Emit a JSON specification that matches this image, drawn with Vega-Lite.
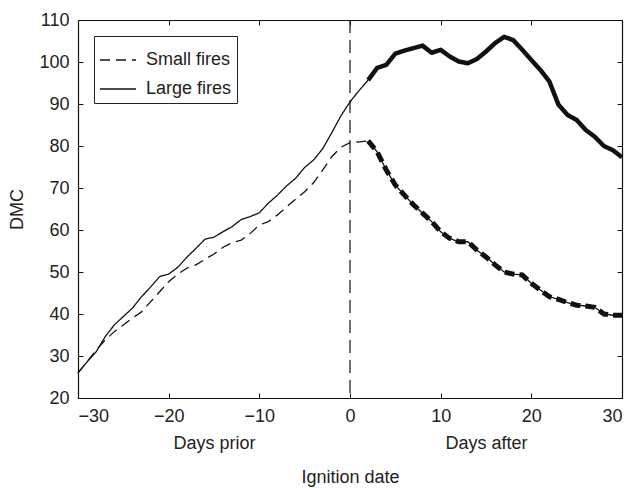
{
  "$schema": "https://vega.github.io/schema/vega-lite/v6.json",
  "autosize": {"type": "none"},
  "padding": {"left": 78, "top": 20, "right": 11, "bottom": 90},
  "width": 544,
  "height": 378,
  "background": "white",
  "config": {
    "font": "Liberation Sans",
    "view": {"stroke": null},
    "axis": {"labelFontSize": 18, "titleFontSize": 18, "titleFontWeight": "normal", "labelColor": "#222", "titleColor": "#222", "domainColor": "#111", "tickColor": "#111", "grid": false, "domainWidth": 1.2, "tickWidth": 1},
    "legend": {"labelFontSize": 18, "labelColor": "#222"}
  },
  "data": {"values": [
    {"day": -30, "dmc": 26, "series": "Large fires"}, {"day": -29, "dmc": 28.6, "series": "Large fires"}, {"day": -28, "dmc": 31, "series": "Large fires"}, {"day": -27, "dmc": 34.6, "series": "Large fires"}, {"day": -26, "dmc": 37.4, "series": "Large fires"}, {"day": -25, "dmc": 39.4, "series": "Large fires"}, {"day": -24, "dmc": 41.4, "series": "Large fires"}, {"day": -23, "dmc": 44.1, "series": "Large fires"}, {"day": -22, "dmc": 46.4, "series": "Large fires"}, {"day": -21, "dmc": 48.9, "series": "Large fires"}, {"day": -20, "dmc": 49.5, "series": "Large fires"}, {"day": -19, "dmc": 51.1, "series": "Large fires"}, {"day": -18, "dmc": 53.5, "series": "Large fires"}, {"day": -17, "dmc": 55.6, "series": "Large fires"}, {"day": -16, "dmc": 57.8, "series": "Large fires"}, {"day": -15, "dmc": 58.3, "series": "Large fires"}, {"day": -14, "dmc": 59.6, "series": "Large fires"}, {"day": -13, "dmc": 60.8, "series": "Large fires"}, {"day": -12, "dmc": 62.5, "series": "Large fires"}, {"day": -11, "dmc": 63.2, "series": "Large fires"}, {"day": -10, "dmc": 64.1, "series": "Large fires"}, {"day": -9, "dmc": 66.4, "series": "Large fires"}, {"day": -8, "dmc": 68.3, "series": "Large fires"}, {"day": -7, "dmc": 70.5, "series": "Large fires"}, {"day": -6, "dmc": 72.3, "series": "Large fires"}, {"day": -5, "dmc": 74.9, "series": "Large fires"}, {"day": -4, "dmc": 76.7, "series": "Large fires"}, {"day": -3, "dmc": 79.4, "series": "Large fires"}, {"day": -2, "dmc": 83.2, "series": "Large fires"}, {"day": -1, "dmc": 87.2, "series": "Large fires"}, {"day": 0, "dmc": 90.5, "series": "Large fires"}, {"day": 1, "dmc": 93.2, "series": "Large fires"}, {"day": 2, "dmc": 95.7, "series": "Large fires"}, {"day": 3, "dmc": 98.6, "series": "Large fires"}, {"day": 4, "dmc": 99.3, "series": "Large fires"}, {"day": 5, "dmc": 102, "series": "Large fires"}, {"day": 6, "dmc": 102.7, "series": "Large fires"}, {"day": 7, "dmc": 103.3, "series": "Large fires"}, {"day": 8, "dmc": 103.9, "series": "Large fires"}, {"day": 9, "dmc": 102.2, "series": "Large fires"}, {"day": 10, "dmc": 102.9, "series": "Large fires"}, {"day": 11, "dmc": 101.3, "series": "Large fires"}, {"day": 12, "dmc": 100.1, "series": "Large fires"}, {"day": 13, "dmc": 99.7, "series": "Large fires"}, {"day": 14, "dmc": 100.7, "series": "Large fires"}, {"day": 15, "dmc": 102.5, "series": "Large fires"}, {"day": 16, "dmc": 104.5, "series": "Large fires"}, {"day": 17, "dmc": 106, "series": "Large fires"}, {"day": 18, "dmc": 105.2, "series": "Large fires"}, {"day": 19, "dmc": 102.9, "series": "Large fires"}, {"day": 20, "dmc": 100.5, "series": "Large fires"}, {"day": 21, "dmc": 98.1, "series": "Large fires"}, {"day": 22, "dmc": 95.3, "series": "Large fires"}, {"day": 23, "dmc": 89.8, "series": "Large fires"}, {"day": 24, "dmc": 87.4, "series": "Large fires"}, {"day": 25, "dmc": 86.2, "series": "Large fires"}, {"day": 26, "dmc": 83.8, "series": "Large fires"}, {"day": 27, "dmc": 82.2, "series": "Large fires"}, {"day": 28, "dmc": 80, "series": "Large fires"}, {"day": 29, "dmc": 79, "series": "Large fires"}, {"day": 30, "dmc": 77.3, "series": "Large fires"},
    {"day": -30, "dmc": 26, "series": "Small fires"}, {"day": -29, "dmc": 28.6, "series": "Small fires"}, {"day": -28, "dmc": 31.4, "series": "Small fires"}, {"day": -27, "dmc": 33.8, "series": "Small fires"}, {"day": -26, "dmc": 35.8, "series": "Small fires"}, {"day": -25, "dmc": 37.4, "series": "Small fires"}, {"day": -24, "dmc": 39, "series": "Small fires"}, {"day": -23, "dmc": 40.5, "series": "Small fires"}, {"day": -22, "dmc": 42.9, "series": "Small fires"}, {"day": -21, "dmc": 45.3, "series": "Small fires"}, {"day": -20, "dmc": 47.7, "series": "Small fires"}, {"day": -19, "dmc": 49.5, "series": "Small fires"}, {"day": -18, "dmc": 50.9, "series": "Small fires"}, {"day": -17, "dmc": 51.7, "series": "Small fires"}, {"day": -16, "dmc": 53, "series": "Small fires"}, {"day": -15, "dmc": 54.3, "series": "Small fires"}, {"day": -14, "dmc": 55.9, "series": "Small fires"}, {"day": -13, "dmc": 57, "series": "Small fires"}, {"day": -12, "dmc": 57.6, "series": "Small fires"}, {"day": -11, "dmc": 59.2, "series": "Small fires"}, {"day": -10, "dmc": 61.2, "series": "Small fires"}, {"day": -9, "dmc": 62, "series": "Small fires"}, {"day": -8, "dmc": 63.6, "series": "Small fires"}, {"day": -7, "dmc": 65.5, "series": "Small fires"}, {"day": -6, "dmc": 67.3, "series": "Small fires"}, {"day": -5, "dmc": 69.1, "series": "Small fires"}, {"day": -4, "dmc": 71.3, "series": "Small fires"}, {"day": -3, "dmc": 74.3, "series": "Small fires"}, {"day": -2, "dmc": 77.5, "series": "Small fires"}, {"day": -1, "dmc": 79.7, "series": "Small fires"}, {"day": 0, "dmc": 80.8, "series": "Small fires"}, {"day": 1, "dmc": 81, "series": "Small fires"}, {"day": 2, "dmc": 81.2, "series": "Small fires"}, {"day": 3, "dmc": 78.6, "series": "Small fires"}, {"day": 4, "dmc": 74.3, "series": "Small fires"}, {"day": 5, "dmc": 70.7, "series": "Small fires"}, {"day": 6, "dmc": 68.3, "series": "Small fires"}, {"day": 7, "dmc": 66, "series": "Small fires"}, {"day": 8, "dmc": 64, "series": "Small fires"}, {"day": 9, "dmc": 62, "series": "Small fires"}, {"day": 10, "dmc": 59.6, "series": "Small fires"}, {"day": 11, "dmc": 58, "series": "Small fires"}, {"day": 12, "dmc": 57.2, "series": "Small fires"}, {"day": 13, "dmc": 57.2, "series": "Small fires"}, {"day": 14, "dmc": 55.2, "series": "Small fires"}, {"day": 15, "dmc": 53.6, "series": "Small fires"}, {"day": 16, "dmc": 51.7, "series": "Small fires"}, {"day": 17, "dmc": 50, "series": "Small fires"}, {"day": 18, "dmc": 49.5, "series": "Small fires"}, {"day": 19, "dmc": 49.3, "series": "Small fires"}, {"day": 20, "dmc": 47.3, "series": "Small fires"}, {"day": 21, "dmc": 45.7, "series": "Small fires"}, {"day": 22, "dmc": 44.1, "series": "Small fires"}, {"day": 23, "dmc": 43.5, "series": "Small fires"}, {"day": 24, "dmc": 42.7, "series": "Small fires"}, {"day": 25, "dmc": 42.1, "series": "Small fires"}, {"day": 26, "dmc": 41.9, "series": "Small fires"}, {"day": 27, "dmc": 41.6, "series": "Small fires"}, {"day": 28, "dmc": 40, "series": "Small fires"}, {"day": 29, "dmc": 39.7, "series": "Small fires"}, {"day": 30, "dmc": 39.7, "series": "Small fires"}
  ]},
  "resolve": {"scale": {"x": "independent", "y": "independent"}, "axis": {"x": "independent", "y": "independent"}},
  "layer": [
    {
      "transform": [{"filter": "datum.day <= 2"}],
      "mark": {"type": "line", "color": "#111", "strokeWidth": 1.3},
      "encoding": {
        "x": {"field": "day", "type": "quantitative", "scale": {"domain": [-30, 30], "nice": false, "zero": false},
              "axis": {"orient": "bottom", "values": [-30, -20, -10, 0, 10, 20, 30], "tickSize": -5, "labelPadding": 14, "title": "Ignition date", "titlePadding": 43}},
        "y": {"field": "dmc", "type": "quantitative", "scale": {"domain": [20, 110], "nice": false, "zero": false},
              "axis": {"orient": "left", "values": [20, 30, 40, 50, 60, 70, 80, 90, 100, 110], "tickSize": -5, "labelPadding": 14, "title": "DMC", "titlePadding": 12}},
        "strokeDash": {"field": "series", "type": "nominal",
          "scale": {"domain": ["Small fires", "Large fires"], "range": [[10, 6], [1, 0]]},
          "legend": {"title": null, "orient": "top-left", "offset": 16, "symbolType": "stroke", "symbolSize": 1296, "symbolStrokeColor": "#111", "symbolStrokeWidth": 1.3, "labelOffset": 9, "padding": 5, "rowPadding": 1, "strokeColor": "#222", "fillColor": "white", "cornerRadius": 0}}
      }
    },
    {
      "transform": [{"filter": "datum.series == 'Large fires' && datum.day >= 2"}],
      "mark": {"type": "line", "color": "#111", "strokeWidth": 4.5, "strokeJoin": "round"},
      "encoding": {
        "x": {"field": "day", "type": "quantitative", "scale": {"domain": [-30, 30], "nice": false, "zero": false},
              "axis": {"orient": "top", "values": [-30, -20, -10, 0, 10, 20, 30], "tickSize": -5, "labels": false, "title": null}},
        "y": {"field": "dmc", "type": "quantitative", "scale": {"domain": [20, 110], "nice": false, "zero": false},
              "axis": {"orient": "right", "values": [20, 30, 40, 50, 60, 70, 80, 90, 100, 110], "tickSize": -5, "labels": false, "title": null}}
      }
    },
    {
      "transform": [{"filter": "datum.series == 'Small fires' && datum.day >= 2"}],
      "mark": {"type": "line", "color": "#111", "strokeWidth": 1.3},
      "encoding": {
        "x": {"field": "day", "type": "quantitative", "scale": {"domain": [-30, 30], "nice": false, "zero": false},
              "axis": {"orient": "bottom", "values": [-15, 15], "ticks": false, "domain": false, "labelPadding": 36, "labelExpr": "datum.value < 0 ? 'Days prior' : 'Days after'", "title": null}},
        "y": {"field": "dmc", "type": "quantitative", "scale": {"domain": [20, 110], "nice": false, "zero": false}, "axis": null}
      }
    },
    {
      "transform": [{"filter": "datum.series == 'Small fires' && datum.day >= 2"}],
      "mark": {"type": "line", "color": "#111", "strokeWidth": 5, "strokeDash": [10, 5]},
      "encoding": {
        "x": {"field": "day", "type": "quantitative", "scale": {"domain": [-30, 30], "nice": false, "zero": false}, "axis": null},
        "y": {"field": "dmc", "type": "quantitative", "scale": {"domain": [20, 110], "nice": false, "zero": false}, "axis": null}
      }
    },
    {
      "data": {"values": [{"day": 0}]},
      "mark": {"type": "rule", "color": "#111", "strokeWidth": 1.2, "strokeDash": [13, 7]},
      "encoding": {
        "x": {"field": "day", "type": "quantitative", "scale": {"domain": [-30, 30], "nice": false, "zero": false}, "axis": null}
      }
    }
  ]
}
